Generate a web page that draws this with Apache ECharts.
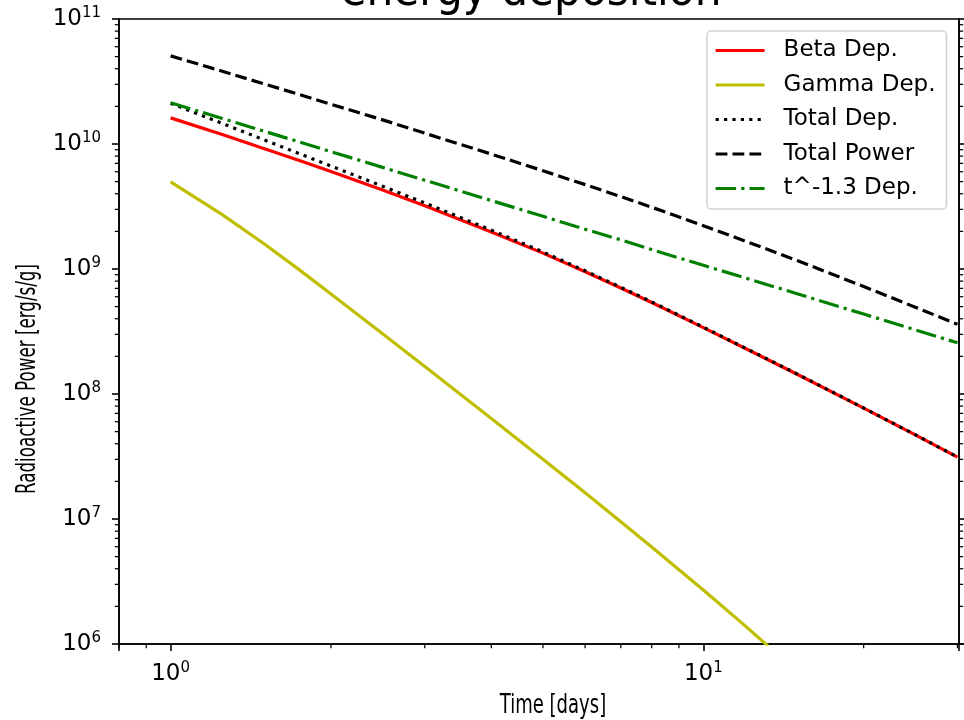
<!DOCTYPE html>
<html>
<head>
<meta charset="utf-8">
<script src="https://cdn.jsdelivr.net/npm/echarts@6/dist/echarts.min.js"></script>
<style>
  html, body { margin: 0; padding: 0; background: #fff; }
  #chart { width: 964px; height: 720px; }
</style>
</head>
<body>
<div id="chart"></div>
<script>
// time in days
var days = [1, 1.25, 1.5, 1.75, 2, 2.5, 3, 4, 5, 6, 7, 8, 10, 12, 15, 20, 25, 30];
// erg/s/g
var betaDep = [1.618e10, 1.189e10, 9.18e9, 7.35e9, 6.03e9, 4.29e9, 3.21e9, 1.98e9, 1.34e9, 9.51e8, 7.05e8, 5.40e8, 3.40e8, 2.31e8, 1.44e8, 7.71e7, 4.71e7, 3.13e7];
// gamma drops out of the plot a little after 13 days
var gammaDep = [4.97e9, 2.72e9, 1.585e9, 9.75e8, 6.32e8, 3.03e8, 1.66e8, 6.38e7, 3.01e7, 1.62e7, 9.51e6, 5.96e6, 2.70e6, 1.39e6, 6.01e5];
var totalDep = [2.115e10, 1.461e10, 1.0765e10, 8.325e9, 6.662e9, 4.593e9, 3.376e9, 2.044e9, 1.370e9, 9.67e8, 7.145e8, 5.46e8, 3.427e8, 2.324e8, 1.446e8, 7.73e7, 4.72e7, 3.134e7];
var totalPower = [5.07e10, 3.82e10, 3.02e10, 2.48e10, 2.08e10, 1.56e10, 1.22e10, 8.30e9, 6.11e9, 4.73e9, 3.80e9, 3.12e9, 2.22e9, 1.67e9, 1.17e9, 7.24e8, 4.95e8, 3.61e8];
var powerLawDep = [2.14e10, 1.601e10, 1.263e10, 1.034e10, 8.69e9, 6.50e9, 5.13e9, 3.53e9, 2.64e9, 2.08e9, 1.71e9, 1.43e9, 1.07e9, 8.47e8, 6.34e8, 4.36e8, 3.26e8, 2.57e8];

var seriesNames = ['Beta Dep.', 'Gamma Dep.', 'Total Dep.', 'Total Power', 't^-1.3 Dep.'];

// axis limits and minor tick values
var xMin = 0.8, xMax = 30.2;
var yMin = 1e6, yMax = 1e11;
var xMinorTicks = [0.8, 0.9, 2, 3, 4, 5, 6, 7, 8, 9, 20, 30];
var yMinorTicks = [];
for (var d = 6; d < 11; d++) {
    for (var m = 2; m <= 9; m++) yMinorTicks.push(m * Math.pow(10, d));
}

function pairs(xs, ys) {
    var out = [];
    for (var i = 0; i < ys.length; i++) out.push([xs[i], ys[i]]);
    return out;
}

function powLabel(v) {
    var lg = Math.log10(v);
    var e = Math.round(lg);
    if (Math.abs(lg - e) > 1e-6) return '';
    return '{b|10}{s|' + e + '}';
}

var labelRich = {
    b: { fontFamily: 'DejaVu Sans', fontSize: 23, lineHeight: 26, color: '#000' },
    s: { fontFamily: 'DejaVu Sans', fontSize: 15, lineHeight: 15, verticalAlign: 'top', color: '#000' }
};

var narrowFont = 'DejaVu Sans Condensed, DejaVu Sans, sans-serif';
var lw = 3.2;

function lineSeries(name, data, color, dash) {
    return {
        name: name,
        type: 'line',
        data: data,
        symbol: 'none',
        smooth: false,
        clip: true,
        lineStyle: { color: color, width: lw, type: dash, cap: 'butt' },
        itemStyle: { color: color },
        emphasis: { disabled: true },
        animation: false
    };
}

var chart = echarts.init(document.getElementById('chart'), null, { renderer: 'canvas' });

var option = {
    animation: false,
    backgroundColor: '#fff',
    title: {
        text: 'energy deposition',
        left: 526,
        top: -36,
        textAlign: 'center',
        textStyle: { fontFamily: narrowFont, fontSize: 47, fontWeight: 'normal', color: '#000' }
    },
    legend: {
        orient: 'vertical',
        left: 707,
        top: 31,
        data: seriesNames,
        itemWidth: 49,
        itemHeight: 14,
        itemGap: 11.5,
        padding: [8, 11, 9, 7],
        backgroundColor: 'rgba(255,255,255,0.8)',
        borderColor: 'rgba(204,204,204,0.9)',
        borderWidth: 1.5,
        borderRadius: 4,
        itemStyle: { opacity: 0 },
        lineStyle: { width: lw, cap: 'butt' },
        textStyle: { fontFamily: 'DejaVu Sans', fontSize: 23, lineHeight: 23, color: '#000', padding: [0, 0, 0, 14] }
    },
    grid: {
        left: 119, right: 5, top: 19, bottom: 76,
        show: true, borderColor: '#000', borderWidth: 1.6, backgroundColor: 'transparent'
    },
    // axis titles, drawn narrow like the reference
    graphic: [{
        type: 'text',
        x: 553,
        y: 706,
        scaleX: 0.77,
        style: { text: 'Time [days]', fontFamily: narrowFont, fontSize: 26, fill: '#000', align: 'center', verticalAlign: 'middle' }
    }, {
        type: 'text',
        x: 28,
        y: 379,
        rotation: Math.PI / 2,
        scaleX: 0.715,
        style: { text: 'Radioactive Power [erg/s/g]', fontFamily: narrowFont, fontSize: 26, fill: '#000', align: 'center', verticalAlign: 'middle' }
    }],
    xAxis: {
        type: 'log',
        logBase: 10,
        min: xMin,
        max: xMax,
        axisLine: { show: true, onZero: false, lineStyle: { color: '#000', width: 1.6 } },
        axisTick: { show: true, inside: false, length: 7, lineStyle: { color: '#000', width: 1.6 } },
        axisLabel: { margin: 17, formatter: powLabel, rich: labelRich, showMinLabel: true, showMaxLabel: true },
        splitLine: { show: false },
        minorTick: { show: false }
    },
    yAxis: [{
        type: 'log',
        logBase: 10,
        min: yMin,
        max: yMax,
        axisLine: { show: true, onZero: false, lineStyle: { color: '#000', width: 1.6 } },
        axisTick: { show: true, inside: false, length: 7, lineStyle: { color: '#000', width: 1.6 } },
        axisLabel: { margin: 18, formatter: powLabel, rich: labelRich },
        splitLine: { show: false }
    }, {
        type: 'log',
        logBase: 10,
        min: yMin,
        max: yMax,
        position: 'right',
        axisLine: { show: true, onZero: false, lineStyle: { color: '#000', width: 1.6 } },
        axisTick: { show: true, inside: false, length: 7, lineStyle: { color: '#000', width: 1.6 } },
        axisLabel: { show: false },
        splitLine: { show: false }
    }],
    series: [
        lineSeries(seriesNames[0], pairs(days, betaDep), '#ff0000', 'solid'),
        lineSeries(seriesNames[1], pairs(days, gammaDep), '#bfbf00', 'solid'),
        lineSeries(seriesNames[2], pairs(days, totalDep), '#000000', [3.2, 5.2]),
        lineSeries(seriesNames[3], pairs(days, totalPower), '#000000', [11.8, 5.1]),
        lineSeries(seriesNames[4], pairs(days, powerLawDep), '#008000', [20.5, 5.1, 3.2, 5.1]),
        {
            // minor ticks on the bottom axis
            type: 'custom',
            silent: true,
            clip: false,
            data: xMinorTicks.map(function (v) { return [v, yMin]; }),
            renderItem: function (params, api) {
                var p = api.coord([api.value(0), yMin]);
                return {
                    type: 'line',
                    shape: { x1: p[0], y1: p[1], x2: p[0], y2: p[1] + 4.2 },
                    style: { stroke: '#000', lineWidth: 1.25 }
                };
            }
        },
        {
            // minor ticks on the left and right axes
            type: 'custom',
            silent: true,
            clip: false,
            data: yMinorTicks.map(function (v) { return [xMin, v]; }),
            renderItem: function (params, api) {
                var l = api.coord([xMin, api.value(1)]);
                var r = api.coord([xMax, api.value(1)]);
                return {
                    type: 'group',
                    children: [
                        { type: 'line', shape: { x1: l[0] - 4.2, y1: l[1], x2: l[0], y2: l[1] }, style: { stroke: '#000', lineWidth: 1.25 } },
                        { type: 'line', shape: { x1: r[0], y1: r[1], x2: r[0] + 4.2, y2: r[1] }, style: { stroke: '#000', lineWidth: 1.25 } }
                    ]
                };
            }
        }
    ]
};

chart.setOption(option);
</script>
</body>
</html>
